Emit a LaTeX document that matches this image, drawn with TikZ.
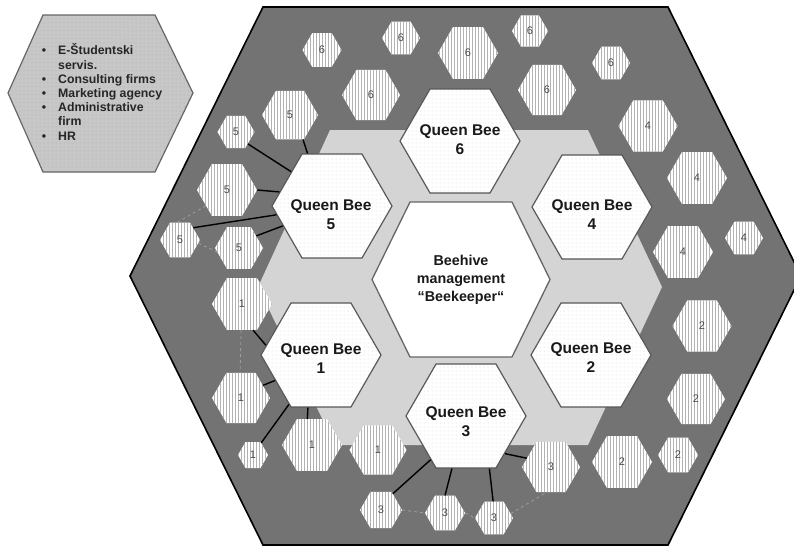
\documentclass[tikz,border=0pt]{standalone}
\usepackage{fontspec}
\setmainfont{Liberation Sans}
\usetikzlibrary{shapes.geometric,patterns}

\pgfdeclarepatternformonly{vstripes}{\pgfqpoint{-0.1pt}{-0.1pt}}{\pgfqpoint{3.1pt}{3.1pt}}{\pgfqpoint{3pt}{3pt}}{%
  \pgfsetlinewidth{1.4pt}%
  \pgfpathmoveto{\pgfqpoint{1.5pt}{-0.1pt}}%
  \pgfpathlineto{\pgfqpoint{1.5pt}{3.1pt}}%
  \pgfusepath{stroke}}
\pgfdeclarepatternformonly{fdots}{\pgfqpoint{-0.6pt}{-0.6pt}}{\pgfqpoint{0.6pt}{0.6pt}}{\pgfqpoint{4pt}{4pt}}{%
  \pgfpathcircle{\pgfqpoint{0pt}{0pt}}{0.5pt}%
  \pgfusepath{fill}}

\tikzset{
  hexwall/.style={fill=black!55, draw=black, line width=1.6pt},
  comb/.style={fill=black!17, draw=none},
  keeperhex/.style={fill=white, draw=black!60, line width=1.3pt},
  infohex/.style={draw=black!60, line width=1.2pt, preaction={fill=black!22}, pattern=fdots, pattern color=black!35},
  worker/.style={regular polygon, regular polygon sides=6, inner sep=0pt, draw=none,
    preaction={fill=white}, pattern=vstripes, pattern color=black!30,
    font=\fontsize{11}{12}\selectfont, text=black!70},
  queen/.style={regular polygon, regular polygon sides=6, minimum size=120pt, inner sep=0pt,
    draw=black!65, line width=1.2pt, preaction={fill=white}, pattern=fdots, pattern color=black!18},
  queentext/.style={font=\bfseries\fontsize{15.5}{19}\selectfont, align=center, inner sep=0pt, text=black!90},
  link/.style={black, line width=1.4pt},
  faint/.style={black!38, dashed, line width=0.8pt},
  bigtext/.style={font=\bfseries\fontsize{14.3}{18}\selectfont, align=center, text=black!90},
  infotext/.style={font=\bfseries\fontsize{12.3}{14.2}\selectfont, align=left, inner sep=0pt, text=black!85}
}

\begin{document}
\begin{tikzpicture}[x=1pt, y=-1pt]
\useasboundingbox (0,0) rectangle (794,547);
\fill[white] (0,0) rectangle (794,547);

% outer hive
\path[hexwall] (263,7) -- (668,7) -- (801,276) -- (668,545) -- (263,545) -- (130,276) -- cycle;
% light comb region
\path[comb] (330,130) -- (588,130) -- (662,287) -- (588,445) -- (335,445) -- (258,287) -- cycle;
% central hex
\path[keeperhex] (410,202) -- (512,202) -- (550,279.5) -- (512,357) -- (410,357) -- (372,279.5) -- cycle;
\node[bigtext] (keeper) at (461,280) {Beehive\\management\\“Beekeeper“};

% info hexagon
\path[infohex] (43,15) -- (155,15) -- (193,93) -- (155,172) -- (43,172) -- (8,93) -- cycle;
\node[infotext, anchor=west] (info) at (58,92) {%
\llap{•\hspace{12pt}}E-Študentski\\
servis.\\
\llap{•\hspace{12pt}}Consulting firms\\
\llap{•\hspace{12pt}}Marketing agency\\
\llap{•\hspace{12pt}}Administrative\\
firm\\
\llap{•\hspace{12pt}}HR};

% queen bees
\node[queen] (q6) at (460,141) {};
\node[queen] (q4) at (592,207) {};
\node[queen] (q5) at (332,206) {};
\node[queen] (q1) at (321,355) {};
\node[queen] (q2) at (591,355) {};
\node[queen] (q3) at (466,416) {};
\node[queentext] (q6t) at (460,140) {Queen Bee\\6};
\node[queentext] (q4t) at (592,215) {Queen Bee\\4};
\node[queentext] (q5t) at (331,215) {Queen Bee\\5};
\node[queentext] (q1t) at (321,359) {Queen Bee\\1};
\node[queentext] (q2t) at (591,358) {Queen Bee\\2};
\node[queentext] (q3t) at (466,422) {Queen Bee\\3};

% workers 6
\node[worker, minimum size=39pt] (s1) at (322,50) {6};
\node[worker, minimum size=38pt] (s2) at (401,38) {6};
\node[worker, minimum size=60pt] (s3) at (468,53) {6};
\node[worker, minimum size=36pt] (s4) at (530,31) {6};
\node[worker, minimum size=38pt] (s5) at (611,63) {6};
\node[worker, minimum size=58pt] (s6) at (547,90) {6};
\node[worker, minimum size=58pt] (s7) at (371,95) {6};
% workers 5
\node[worker, minimum size=56pt] (s8) at (290,115) {5};
\node[worker, minimum size=37pt] (s9) at (236,132) {5};
\node[worker, minimum size=60pt] (s10) at (227,190) {5};
\node[worker, minimum size=40pt] (s11) at (180,240) {5};
\node[worker, minimum size=48pt] (s12) at (239,248) {5};
% workers 1
\node[worker, minimum size=60pt] (s13) at (242,304) {1};
\node[worker, minimum size=58pt] (s14) at (241,398) {1};
\node[worker, minimum size=30pt] (s15) at (253,455) {1};
\node[worker, minimum size=60pt] (s16) at (312,445) {1};
\node[worker, minimum size=57pt] (s17) at (378,450) {1};
% workers 3
\node[worker, minimum size=42pt] (s18) at (381,510) {3};
\node[worker, minimum size=40pt] (s19) at (445,513) {3};
\node[worker, minimum size=38pt] (s20) at (494,518) {3};
\node[worker, minimum size=58pt] (s21) at (551,467) {3};
% workers 2
\node[worker, minimum size=60pt] (s22) at (622,462) {2};
\node[worker, minimum size=40pt] (s23) at (678,455) {2};
\node[worker, minimum size=58pt] (s24) at (696,399) {2};
\node[worker, minimum size=59pt] (s25) at (702,326) {2};
% workers 4
\node[worker, minimum size=59pt] (s26) at (648,126) {4};
\node[worker, minimum size=60pt] (s27) at (697,178) {4};
\node[worker, minimum size=38pt] (s28) at (744,238) {4};
\node[worker, minimum size=60pt] (s29) at (683,252) {4};

% solid links
\draw[link] (s8.-62) -- (q5.115);
\draw[link] (s9.-45) -- (q5.140);
\draw[link] (s10.0) -- (q5.165);
\draw[link] (s11.43) -- (q5.189);
\draw[link] (s12.35) -- (q5.202);
\draw[link] (s13.-67) -- (q1.170);
\draw[link] (s14.30) -- (q1.209);
\draw[link] (s15.56) -- (q1.237);
\draw[link] (s16.100) -- (q1.256);
\draw[link] (s18.54) -- (q3.231);
\draw[link] (s19.90) -- (q3.255);
\draw[link] (s20.93) -- (q3.294);
\draw[link] (s21.160) -- (q3.316);

% faint dashed links
\draw[faint] (s10.217) -- (s11.100);
\draw[faint] (s11.-10) -- (s12.190);
\draw[faint] (s13.-92) -- (s14.92);
\draw[faint] (s18.0) -- (s19.180);
\draw[faint] (s19.0) -- (s20.180);
\draw[faint] (s20.15) -- (s21.-100);
\end{tikzpicture}
\end{document}
